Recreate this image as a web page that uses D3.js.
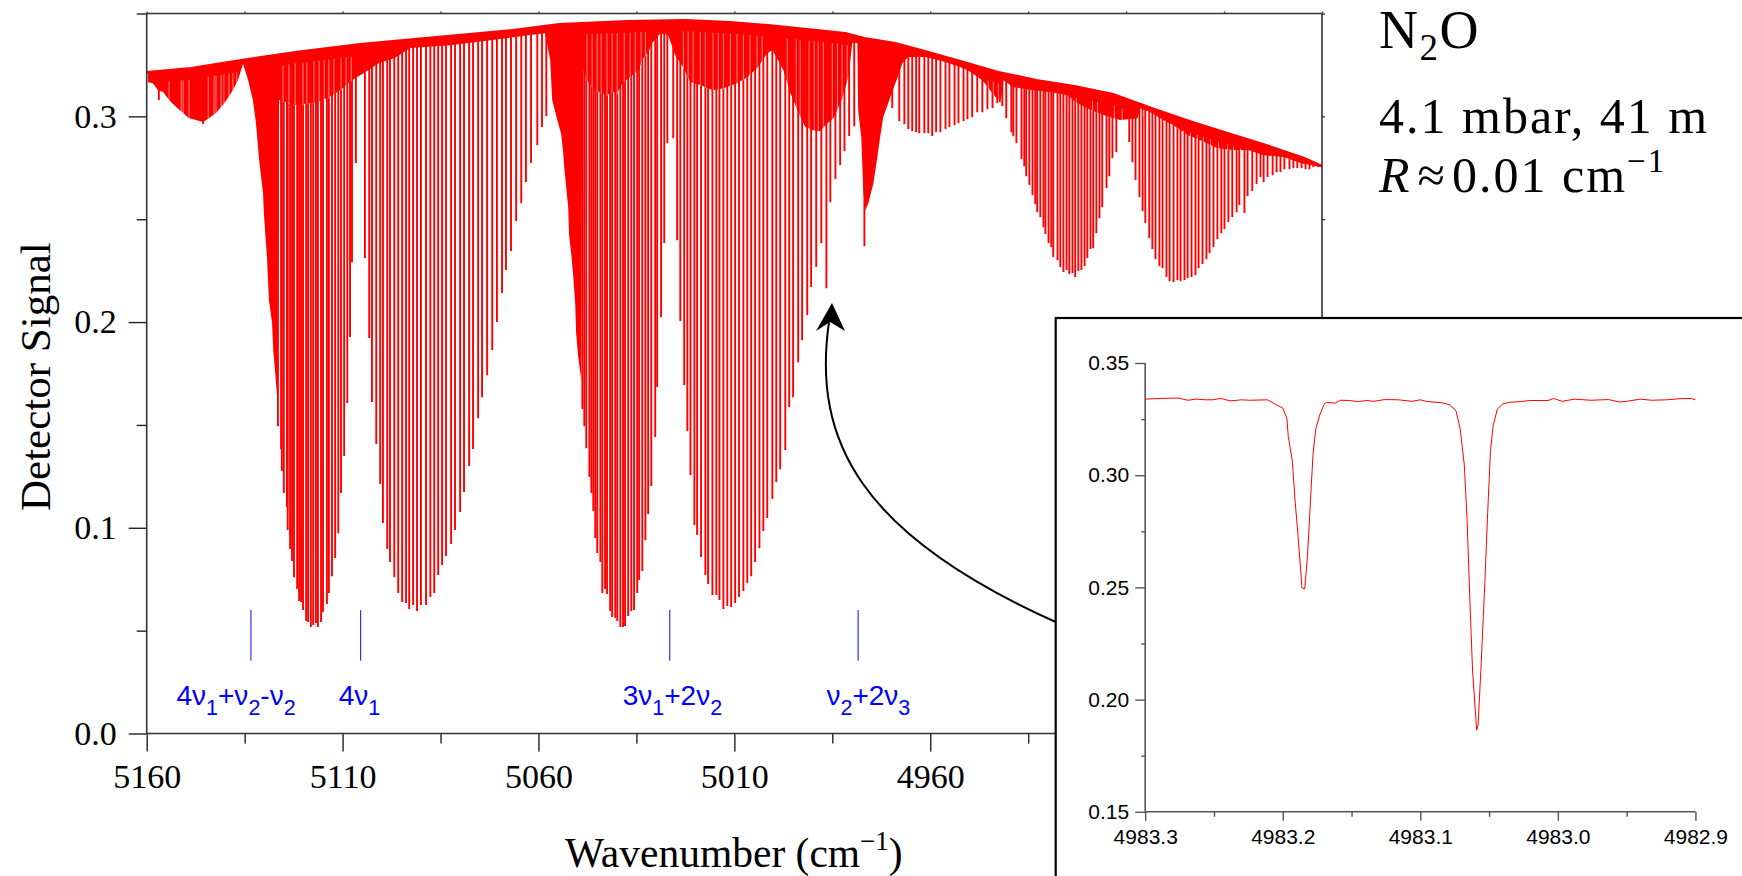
<!DOCTYPE html>
<html><head><meta charset="utf-8">
<script src="https://cdn.jsdelivr.net/npm/d3@7/dist/d3.min.js"></script>
<style>html,body{margin:0;padding:0;background:#fff}svg{display:block}</style>
</head><body><svg id="c" width="1742" height="876"></svg>
<script>
// ---- main spectrum: top envelope (detector background) ----
const envWn=[5160,5148.7,5135.9,5122.1,5105.5,5086.1,5066.5,5054.7,5037.4,5022.5,5011.1,5001.4,4991.4,4981.7,4976.8,4968.9,4962.3,4952.3,4942.6,4932.9,4923.2,4913.3,4903.5,4893.8,4884.1,4874.2,4864.5,4860];
const envSig=[.3215,.3234,.3273,.3312,.3351,.3385,.3419,.3448,.3463,.3468,.3458,.3443,.3424,.3404,.3380,.3356,.3322,.3268,.3215,.3176,.3147,.3108,.3040,.2977,.2918,.2860,.2797,.2758];
// lower edge of the regions where lines merge into solid colour
const solidWn=[5159.7,5158.4,5157.1,5155.8,5154.3,5152.5,5150.7,5149.2,5147.4,5145.6,5144.1,5142.3,5141.0,5139.8,5138.0,5136.7,5135.9,5135.4,5134.1,5132.9,5132.1,5131.3,5130.3,5130.1,5129.3,5128.8,5128.0,5127.7,5127.2,5126.7,5126.2,5122.1,5116.5,5113.5,5110.6,5107.6,5105.5,5100.7,5096.8,5092.8,5082.5,5072.3,5062.1,5058.3,5057.0,5056.5,5055.2,5054.2,5053.7,5053.4,5052.9,5052.4,5052.2,5051.6,5051.1,5050.6,5050.4,5049.9,5049.1,5048.8,5047.3,5045.5,5042.5,5041.2,5039.9,5038.6,5036.6,5034.5,5033.3,5032.0,5031.0,5028.9,5026.9,5025.1,5023.1,5021.2,5018.7,5015.4,5012.8,5009.3,5006.7,5004.2,5001.6,5000.3,4998.8,4997.5,4995.7,4993.9,4991.9,4989.9,4988.1,4986.3,4984.7,4982.5,4980.9,4979.9,4978.6,4978.4,4977.6,4977.1,4976.6,4975.8,4974.5,4973.5,4972.8,4972.0,4970.2,4968.4,4967.1,4965.6,4961.2,4956.1,4952.3,4950.5,4949.3,4946.7,4944.7,4942.1,4941.3,4938.8,4933.7,4929.3,4925.0,4922.4,4919.9,4917.1,4914.0,4911.5,4907.1,4906.4,4903.8,4900.5,4897.9,4894.3,4891.0,4886.7,4882.6,4878.8,4874.9,4869.8,4865.5,4860.0];
const solidSig=[.3166,.3161,.3127,.3118,.3079,.3045,.3016,.2991,.2982,.2972,.2991,.3016,.3045,.3074,.3127,.3176,.3225,.3254,.3176,.3079,.2967,.2787,.2627,.2530,.2316,.2107,.1995,.1864,.1752,.1635,.3079,.3055,.3069,.3093,.3127,.3176,.3200,.3259,.3283,.3332,.3346,.3370,.3395,.3404,.3273,.3079,.2982,.2914,.2826,.2748,.2651,.2554,.2428,.2325,.2219,.2082,.1951,.1839,.1718,.3234,.3166,.3127,.3103,.3118,.3113,.3161,.3191,.3225,.3283,.3312,.3356,.3404,.3395,.3298,.3239,.3166,.3152,.3127,.3137,.3161,.3191,.3234,.3307,.3322,.3273,.3225,.3113,.3030,.2948,.2933,.2928,.2967,.2991,.3084,.3191,.3356,.3356,.3030,.2899,.2641,.2544,.2578,.2675,.2802,.2899,.2996,.3093,.3186,.3259,.3288,.3288,.3264,.3239,.3225,.3210,.3176,.3127,.3064,.3176,.3142,.3127,.3118,.3103,.3064,.3040,.3016,.2996,.2982,.2991,.3040,.3020,.2982,.2957,.2909,.2884,.2845,.2836,.2836,.2811,.2802,.2773,.2753];
// pale gaps between weak lines inside the merged regions
const gapWn=[5154.3,5151.2,5150.7,5149.2,5144.3,5142.8,5142.3,5141.0,5140.3,5139.0,5138.0,5137.0,5125.2,5123.7,5122.1,5120.1,5119.1,5117.3,5116.0,5114.7,5113.5,5112.2,5110.4,5109.1,5107.8,5047.6,5046.3,5045.0,5044.0,5042.5,5041.2,5039.9,5038.1,5036.6,5035.3,5033.8,5032.7,5023.0,5021.8,5020.5,5018.7,5017.4,5015.4,5014.1,5012.8,5011.0,5009.3,5007.7,5006.0,5004.2,5002.9,4996.5,4994.2,4993.2,4990.9,4989.6,4988.6,4987.3,4985.0,4983.7,4982.5,4981.2,4949.0,4947.7,4945.2,4943.9,4942.6,4922.7,4918.6,4917.3,4913.0,4911.0,4905.6,4903.8,4900.5,4898.7,4896.9,4895.4,4893.6,4891.8,4890.3,4888.5,4886.4,4884.1,4882.6,4880.8,4878.8,4876.5,4874.4];
const gapBelowEnvelope=0.0055;
// individual absorption lines: wavenumber and signal at line minimum
const bandAWn=[5156.9,5145.6,5126.5,5125.7,5125.5,5125.0,5124.2,5124.0,5123.4,5122.9,5122.4,5121.6,5121.1,5120.6,5120.1,5119.3,5118.8,5118.1,5117.5,5116.8,5116.3,5115.5,5115.0,5114.0,5113.5,5112.7,5111.9,5111.1,5110.4,5109.6,5108.8,5108.1,5107.6,5106.6];
const bandASig=[.3079,.2962,.1494,.1382,.1276,.1169,.1101,.0989,.0897,.0838,.0760,.0702,.0644,.0639,.0600,.0547,.0542,.0518,.0527,.0537,.0518,.0542,.0590,.0629,.0683,.0765,.0853,.0974,.1169,.1349,.1606,.1927,.2291,.2773];
const bandBWn=[5104.3,5103.2,5102.5,5101.4,5100.4,5099.7,5098.6,5097.9,5096.8,5095.8,5094.8,5093.8,5093.0,5092.0,5091.0,5090.0,5088.7,5087.6,5086.6,5085.6,5084.6,5083.6,5082.3,5081.3,5080.0,5079.0,5077.7,5076.7,5075.4,5074.4,5073.1,5071.8,5070.6,5069.3,5068.3,5067.0,5065.7,5064.4,5063.2,5061.9,5060.3,5059.1,5058.0];
const bandBSig=[.2311,.1922,.1611,.1407,.1213,.1023,.0897,.0834,.0760,.0683,.0639,.0634,.0605,.0625,.0595,.0625,.0625,.0664,.0683,.0770,.0819,.0863,.0921,.0989,.1077,.1174,.1300,.1383,.1533,.1635,.1742,.1864,.2000,.2141,.2253,.2345,.2491,.2578,.2680,.2773,.2860,.2948,.3001];
const bandCWn=[5048.8,5048.3,5047.8,5047.0,5046.5,5046.0,5045.5,5045.0,5044.2,5043.7,5043.0,5042.5,5041.7,5041.2,5040.4,5039.9,5039.1,5038.4,5037.9,5037.1,5036.3,5035.6,5034.8,5034.3,5033.5,5032.7,5032.0,5031.2,5030.2,5029.7,5028.7,5027.9,5027.1,5025.6];
const bandCSig=[.1577,.1494,.1387,.1247,.1169,.1081,.0950,.0877,.0834,.0683,.0702,.0678,.0595,.0566,.0561,.0547,.0518,.0518,.0522,.0571,.0595,.0600,.0683,.0746,.0790,.0940,.1067,.1203,.1441,.1684,.2024,.2384,.2870,.2894];
const bandDWn=[5024.6,5023.8,5022.8,5022.0,5021.2,5020.2,5019.5,5018.5,5017.4,5016.7,5015.6,5014.6,5013.8,5012.8,5011.8,5010.8,5009.8,5008.8,5007.7,5006.7,5005.7,5004.7,5003.6,5002.6,5001.6,5000.3,4999.3,4998.3,4997.0,4996.0,4995.0,4993.7,4992.7,4991.4,4990.4,4989.1,4987.8,4986.5,4985.5,4984.2,4983.0,4981.9,4980.7,4979.4];
const bandDSig=[.2398,.2005,.1694,.1470,.1256,.1013,.0965,.0858,.0770,.0727,.0673,.0673,.0649,.0605,.0620,.0615,.0634,.0664,.0693,.0731,.0765,.0834,.0901,.0984,.1047,.1140,.1222,.1285,.1378,.1587,.1635,.1805,.1912,.2034,.2171,.2268,.2384,.2165,.2583,.2695,.2763,.2831,.2904,.2952];
const bandEWn=[4976.8,4969.7,4967.9,4966.6,4965.6,4964.6,4963.6,4962.8,4961.5,4960.5,4959.5,4958.5,4957.4,4956.1,4955.1,4953.8,4952.8,4951.5,4950.5,4949.3,4948.0,4946.7,4945.4,4944.1,4942.9,4941.6];
const bandESig=[.2369,.3040,.2977,.2962,.2938,.2928,.2923,.2918,.2918,.2918,.2904,.2923,.2923,.2938,.2948,.2957,.2967,.2977,.2986,.2996,.3020,.3020,.3035,.3040,.3064,.3050];
const bandFWn=[4940.6,4939.3,4938.8,4938.0,4936.7,4936.0,4935.5,4934.7,4933.9,4933.2,4932.7,4931.9,4931.1,4930.6,4929.8,4929.1,4928.6,4927.5,4926.8,4926.0,4925.2,4924.5,4923.7,4923.0,4922.2,4921.4,4920.6,4919.9,4919.1,4918.4,4917.6,4916.8,4916.1,4915.0,4914.3,4913.5,4912.5];
const bandFSig=[.2991,.2923,.2904,.2870,.2792,.2758,.2709,.2666,.2617,.2573,.2534,.2510,.2461,.2428,.2384,.2364,.2316,.2301,.2267,.2243,.2253,.2233,.2238,.2219,.2248,.2253,.2272,.2311,.2355,.2359,.2432,.2505,.2559,.2651,.2709,.2797,.2826];
const bandGWn=[4909.2,4908.4,4907.6,4906.6,4905.8,4905.1,4904.1,4903.3,4902.5,4901.5,4900.7,4899.7,4898.9,4897.9,4896.9,4896.1,4895.1,4894.3,4893.3,4892.3,4891.5,4890.5,4889.5,4888.7,4887.7,4886.7,4885.7,4884.9,4883.9,4882.9,4881.8,4881.1,4879.8,4879.0,4877.8,4876.7,4875.7,4874.9,4873.9,4872.6,4871.6,4870.6,4869.6,4868.3,4867.3,4866.3,4865.2,4864.2,4863.2,4862.2,4860.9];
const bandGSig=[.2875,.2777,.2690,.2607,.2539,.2481,.2408,.2355,.2306,.2272,.2262,.2219,.2199,.2194,.2204,.2199,.2204,.2214,.2219,.2228,.2262,.2282,.2306,.2335,.2364,.2403,.2432,.2452,.2486,.2510,.2534,.2569,.2530,.2612,.2637,.2671,.2705,.2680,.2705,.2714,.2729,.2729,.2743,.2743,.2748,.2748,.2748,.2743,.2743,.2753,.2753];
// main axes
const xMajor=[5160,5110,5060,5010,4960,4910,4860];
const xMinor=[5135,5085,5035,4985,4935,4885];
const yMajor=[0,0.1,0.2,0.3];
const yMinor=[0.05,0.15,0.25,0.35];
// band-origin markers
const bandOrigins=[5133.4,5105.4,5026.5,4978.4];
const markerTop=0.0600, markerBottom=0.0354;
// inset spectrum
const insetWn=[4983.300,4983.289,4983.276,4983.269,4983.263,4983.256,4983.251,4983.245,4983.238,4983.230,4983.224,4983.211,4983.206,4983.200,4983.197,4983.196,4983.193,4983.191,4983.189,4983.186,4983.184,4983.182,4983.180,4983.178,4983.176,4983.173,4983.170,4983.168,4983.162,4983.158,4983.152,4983.145,4983.139,4983.134,4983.126,4983.116,4983.106,4983.100,4983.095,4983.084,4983.078,4983.074,4983.071,4983.068,4983.066,4983.064,4983.062,4983.059,4983.058,4983.056,4983.053,4983.051,4983.049,4983.047,4983.044,4983.040,4983.035,4983.027,4983.020,4983.007,4983.003,4982.997,4982.988,4982.976,4982.963,4982.955,4982.950,4982.940,4982.932,4982.921,4982.911,4982.903,4982.900];
const insetSig=[.3339,.3342,.3344,.3334,.3339,.3336,.3336,.3342,.3331,.3336,.3334,.3336,.3318,.3299,.3254,.3173,.3061,.2884,.2739,.2498,.2493,.2642,.2868,.3093,.3206,.3270,.3315,.3325,.3321,.3334,.3333,.3328,.3333,.3329,.3337,.3336,.3329,.3336,.3328,.3323,.3312,.3286,.3206,.3045,.2803,.2449,.2127,.1864,.1886,.2127,.2530,.2835,.3109,.3222,.3294,.3318,.3325,.3328,.3333,.3333,.3342,.3329,.3339,.3334,.3337,.3326,.3329,.3339,.3334,.3336,.3341,.3342,.3336];
const insetXMajor=[4983.3,4983.2,4983.1,4983.0,4982.9];
const insetXMinor=[4983.25,4983.15,4983.05,4982.95];
const insetYMajor=[0.15,0.20,0.25,0.30,0.35];
const insetYMinor=[0.175,0.225,0.275,0.325];

const RED="#ff0000", BLUE="#0000ff", SERIF="'Liberation Serif',serif", SANS="'Liberation Sans',sans-serif";
const svg=d3.select("#c");
const x=d3.scaleLinear().domain([5160,4860]).range([146.7,1322]);
const y=d3.scaleLinear().domain([0,0.35]).range([733.5,13.5]);
const env=d3.scaleLinear().domain(envWn).range(envSig);
const edge=d3.scaleLinear().domain(solidWn).range(solidSig);

// absorption lines
const lineWn=[...bandAWn,...bandBWn,...bandCWn,...bandDWn,...bandEWn,...bandFWn,...bandGWn];
const lineSig=[...bandASig,...bandBSig,...bandCSig,...bandDSig,...bandESig,...bandFSig,...bandGSig];
svg.append("g").selectAll("line").data(lineWn).join("line")
  .attr("x1",d=>x(d)).attr("x2",d=>x(d))
  .attr("y1",d=>y(env(d))).attr("y2",(d,i)=>y(lineSig[i]))
  .attr("stroke",RED).attr("stroke-width",1.9);
// merged regions
svg.append("path").datum(solidWn)
  .attr("d",d3.area().x(d=>x(d)).y0((d,i)=>y(solidSig[i])).y1(d=>y(env(d))))
  .attr("fill",RED);
// pale gaps between merged lines
svg.append("g").selectAll("line").data(gapWn).join("line")
  .attr("x1",d=>x(d)).attr("x2",d=>x(d))
  .attr("y1",d=>y(env(d)-gapBelowEnvelope)).attr("y2",d=>y(edge(d))+1)
  .attr("stroke","#fff").attr("stroke-width",0.8).attr("stroke-opacity",0.65);
svg.append("path").datum(envWn)
  .attr("d",d3.line().x(d=>x(d)).y((d,i)=>y(envSig[i])))
  .attr("fill","none").attr("stroke",RED).attr("stroke-width",2.4);

// axes
function ax(gen,tx,ty,labels,fs,font,color){
  const g=svg.append("g").attr("transform",`translate(${tx},${ty})`).call(gen);
  g.select(".domain").remove();
  g.selectAll("line").attr("stroke",color).attr("stroke-width",1.4);
  g.selectAll("text").attr("font-family",font).attr("font-size",fs).attr("fill","#000");
  return g;
}
const H=y(0),L=x(5160),R=x(4860),T=y(0.35);
ax(d3.axisBottom(x).tickValues(xMajor).tickSize(18).tickPadding(12).tickFormat(d3.format("d")),0,H,1,34,SERIF,"#222");
ax(d3.axisBottom(x).tickValues(xMinor).tickSize(10).tickFormat(""),0,H,0,34,SERIF,"#222");
ax(d3.axisLeft(y).tickValues(yMajor).tickSize(18).tickPadding(12).tickFormat(d3.format(".1f")),L,0,1,34,SERIF,"#222");
ax(d3.axisLeft(y).tickValues(yMinor).tickSize(10).tickFormat(""),L,0,0,34,SERIF,"#222");
ax(d3.axisTop(x).tickValues([...xMajor,...xMinor]).tickSize(2).tickFormat(""),0,T,0,34,SERIF,"#444");
ax(d3.axisRight(y).tickValues([...yMajor,...yMinor]).tickSize(3).tickFormat(""),R,0,0,34,SERIF,"#444");
const frame=[[L,T,R,T],[R,T,R,H],[L,T,L,H],[L,H,R,H]];
svg.append("g").selectAll("line").data(frame).join("line")
  .attr("x1",d=>d[0]).attr("y1",d=>d[1]).attr("x2",d=>d[2]).attr("y2",d=>d[3])
  .attr("stroke","#333").attr("stroke-width",1.6);

// axis titles
const xt=svg.append("text").attr("x",565).attr("y",867).attr("font-family",SERIF).attr("font-size",41.5);
xt.append("tspan").text("Wavenumber (cm");
xt.append("tspan").attr("dy",-17).attr("font-size",27).text("−1");
xt.append("tspan").attr("dy",17).text(")");
svg.append("text").attr("transform","translate(50,511) rotate(-90)")
  .attr("font-family",SERIF).attr("font-size",43).text("Detector Signal");

// band markers
svg.append("g").selectAll("line").data(bandOrigins).join("line")
  .attr("x1",d=>x(d)).attr("x2",d=>x(d)).attr("y1",y(markerTop)).attr("y2",y(markerBottom))
  .attr("stroke","#3030ff").attr("stroke-width",1.2);
const bandLabels=[
 {xv:5152.4,parts:[["4ν"],["1",1],["+ν"],["2",1],["-ν"],["2",1]]},
 {xv:5111.0,parts:[["4ν"],["1",1]]},
 {xv:5038.5,parts:[["3ν"],["1",1],["+2ν"],["2",1]]},
 {xv:4986.5,parts:[["ν"],["2",1],["+2ν"],["3",1]]}];
bandLabels.forEach(b=>{
  const t=svg.append("text").attr("x",x(b.xv)).attr("y",705).attr("font-family",SANS).attr("font-size",28).attr("fill",BLUE);
  let prev=0;
  b.parts.forEach(p=>{const off=p[1]?10:0;
    t.append("tspan").attr("dy",off-prev).attr("font-size",p[1]?21.5:28).text(p[0]);prev=off;});
});

// side annotation
const SF="'Liberation Serif',serif";
const n=svg.append("text").attr("x",1379).attr("y",48).attr("font-family",SF).attr("font-size",54).attr("letter-spacing",1.5);
n.append("tspan").text("N");n.append("tspan").attr("dy",12).attr("font-size",37).text("2");n.append("tspan").attr("dy",-12).text("O");
svg.append("text").attr("x",1379).attr("y",133).attr("font-family",SF).attr("font-size",50).attr("letter-spacing",2).text("4.1 mbar, 41 m");
const r=svg.append("text").attr("x",1379).attr("y",192).attr("font-family",SF).attr("font-size",50).attr("letter-spacing",2);
r.append("tspan").attr("font-style","italic").text("R");
r.append("tspan").attr("dx",6).attr("font-size",50).text("≈");
r.append("tspan").attr("dx",5).text("0.01 cm");
r.append("tspan").attr("dy",-20).attr("font-size",33).text("−1");

// arrow from inset to the strong line
const ap=d3.path();ap.moveTo(1058,623);ap.bezierCurveTo(860,535,812,440,829,322);
svg.append("path").attr("d",ap.toString())
  .attr("fill","none").attr("stroke","#000").attr("stroke-width",2);
svg.append("path").attr("d","M832,303 L845,331 L830,322 L816,331 Z").attr("fill","#000");

// inset
svg.append("rect").attr("x",1055.7).attr("y",318).attr("width",700).attr("height",570)
  .attr("fill","#fff").attr("stroke","#000").attr("stroke-width",2.2);
const ix=d3.scaleLinear().domain([4983.3,4982.9]).range([1145.2,1695.4]);
const iy=d3.scaleLinear().domain([0.15,0.35]).range([811.8,363]);
const GREY="#555";
ax(d3.axisBottom(ix).tickValues(insetXMajor).tickSize(9).tickPadding(8).tickFormat(d3.format(".1f")),0,iy(0.15),1,21,SANS,GREY);
ax(d3.axisBottom(ix).tickValues(insetXMinor).tickSize(5).tickFormat(""),0,iy(0.15),0,21,SANS,GREY);
ax(d3.axisLeft(iy).tickValues(insetYMajor).tickSize(10).tickPadding(6).tickFormat(d3.format(".2f")),ix(4983.3),0,1,21,SANS,GREY);
ax(d3.axisLeft(iy).tickValues(insetYMinor).tickSize(4).tickFormat(""),ix(4983.3),0,0,21,SANS,GREY);
svg.append("line").attr("x1",ix(4983.3)).attr("x2",ix(4983.3)).attr("y1",iy(.35)).attr("y2",iy(.15)).attr("stroke",GREY).attr("stroke-width",1.6);
svg.append("line").attr("x1",ix(4983.3)).attr("x2",ix(4982.9)).attr("y1",iy(.15)).attr("y2",iy(.15)).attr("stroke",GREY).attr("stroke-width",1.6);
svg.append("path").datum(insetWn)
  .attr("d",d3.line().x(d=>ix(d)).y((d,i)=>iy(insetSig[i])))
  .attr("fill","none").attr("stroke",RED).attr("stroke-width",1);
</script></body></html>
